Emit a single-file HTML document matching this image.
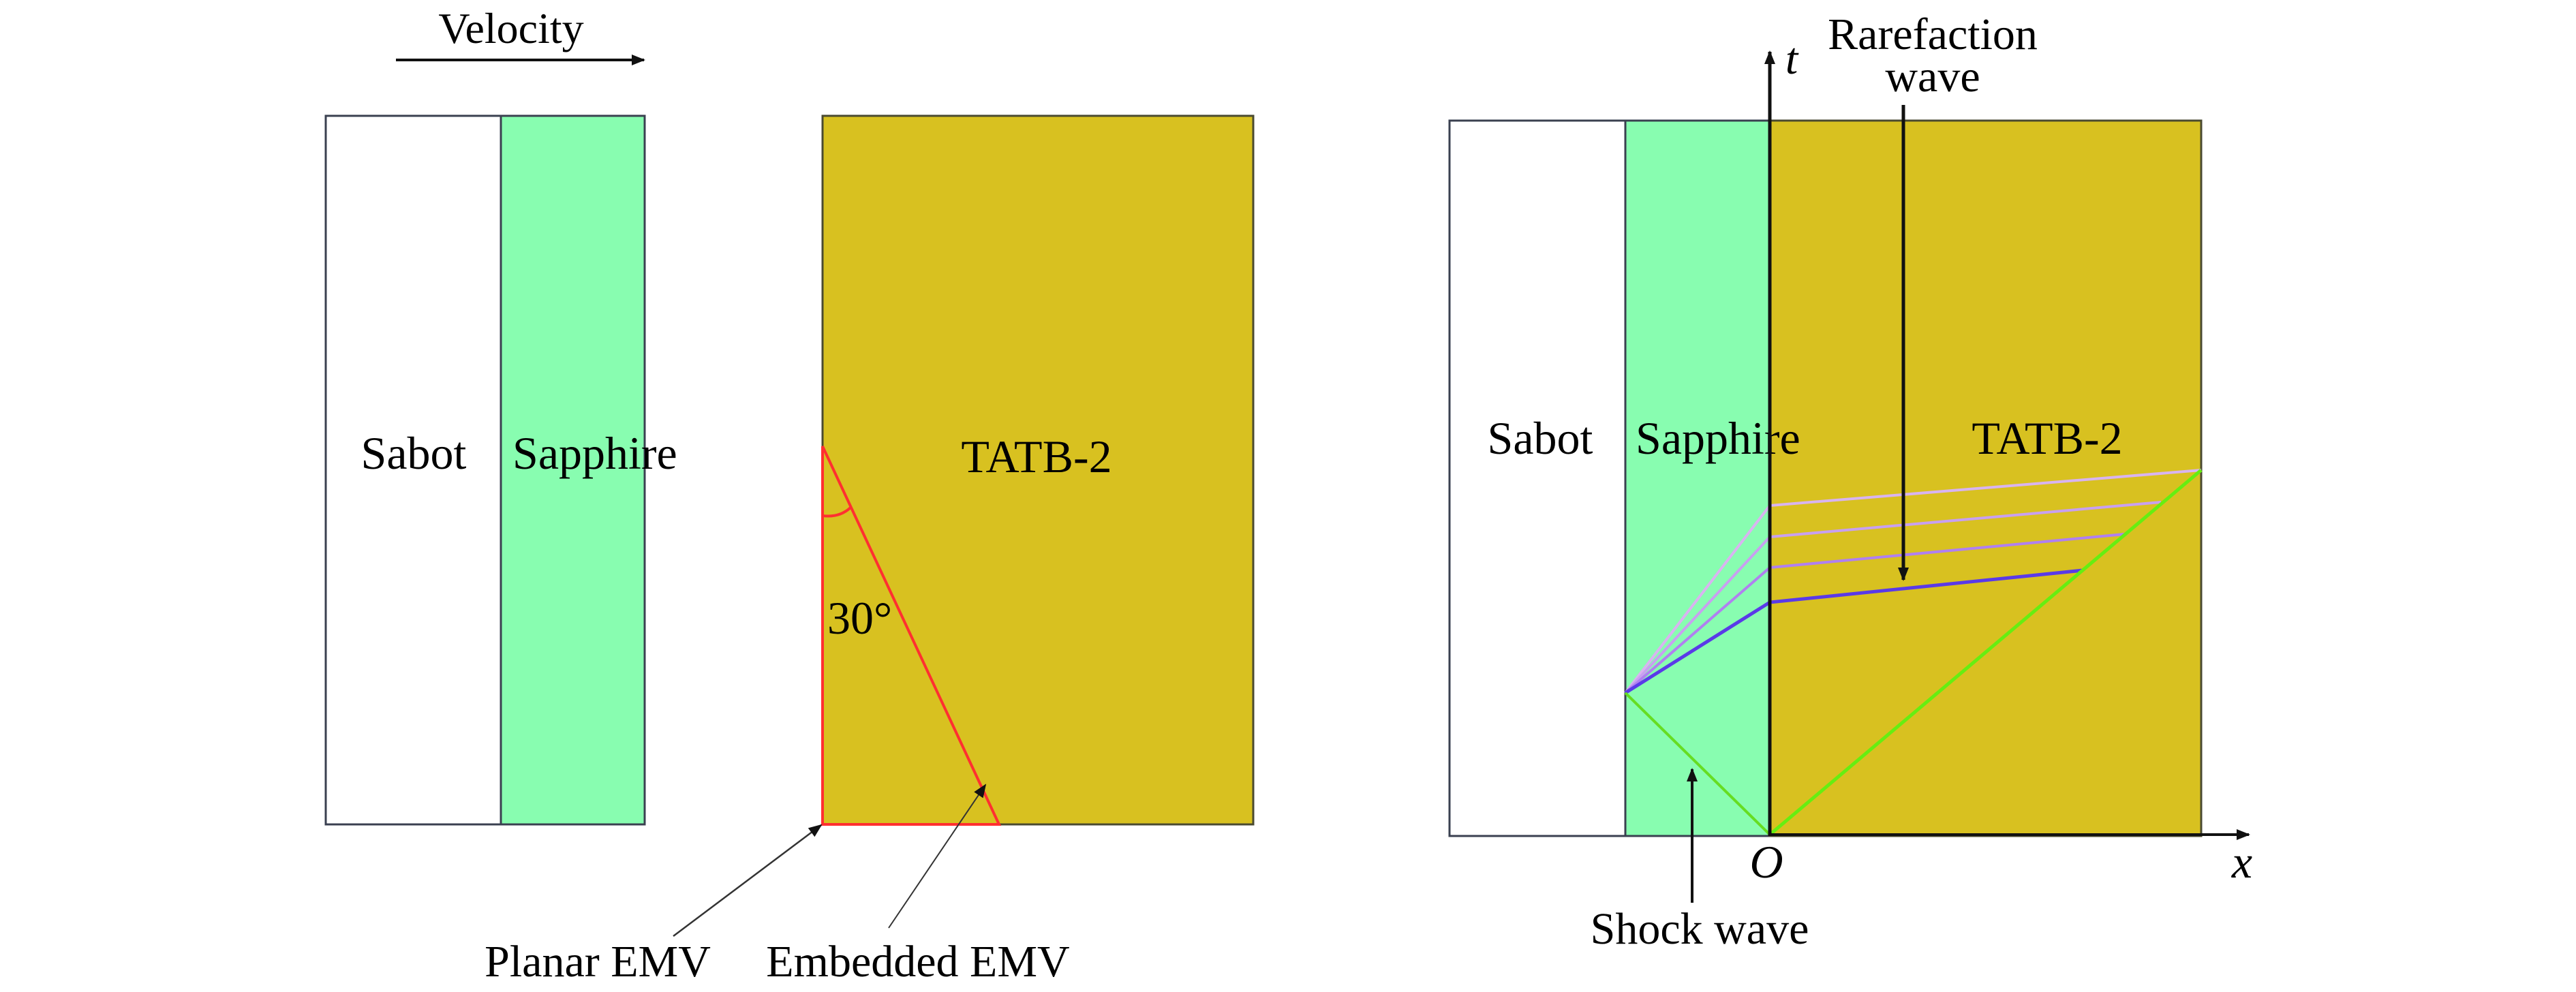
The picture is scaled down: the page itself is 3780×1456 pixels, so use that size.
<!DOCTYPE html>
<html><head><meta charset="utf-8"><style>
html,body{margin:0;padding:0;background:#fff;}
svg{display:block;}
text{font-family:"Liberation Serif",serif;fill:#000;}
</style></head><body>
<svg width="3780" height="1456" viewBox="0 0 3780 1456" xmlns="http://www.w3.org/2000/svg">
<defs>
<marker id="ah2" viewBox="0 0 10 10" refX="9" refY="5" markerWidth="24" markerHeight="20" orient="auto" markerUnits="userSpaceOnUse">
<path d="M0,1 L10,5 L0,9 z" fill="#111"/></marker>
</defs>
<!-- LEFT -->
<text x="750" y="63" font-size="64" text-anchor="middle">Velocity</text>
<line x1="581" y1="88" x2="945" y2="88" stroke="#111" stroke-width="4" marker-end="url(#ah2)"/>
<rect x="478" y="170" width="257" height="1040" fill="#fff" stroke="#3a4050" stroke-width="3"/>
<rect x="735" y="170" width="211" height="1040" fill="#88fdb0" stroke="#3a4050" stroke-width="3"/>
<rect x="1207" y="170" width="632" height="1040" fill="#d8c120" stroke="#4a4a30" stroke-width="3"/>
<polygon points="1207,655 1207,1210 1466,1210" fill="none" stroke="#ff3030" stroke-width="4"/>
<path d="M1207,757 Q1232,760 1248,745" fill="none" stroke="#ff3030" stroke-width="4"/>
<text x="607" y="688" font-size="68" text-anchor="middle">Sabot</text>
<text x="752" y="688" font-size="68">Sapphire</text>
<text x="1521" y="693" font-size="68" text-anchor="middle">TATB-2</text>
<text x="1214" y="930" font-size="68">30°</text>
<line x1="988" y1="1374" x2="1205" y2="1211" stroke="#333" stroke-width="2.5" marker-end="url(#ah2)"/>
<line x1="1304" y1="1362" x2="1446" y2="1152" stroke="#333" stroke-width="2" marker-end="url(#ah2)"/>
<text x="877" y="1433" font-size="66" text-anchor="middle">Planar EMV</text>
<text x="1347" y="1433" font-size="66" text-anchor="middle">Embedded EMV</text>
<!-- RIGHT -->
<rect x="2127" y="177" width="258" height="1050" fill="#fff" stroke="#3a4050" stroke-width="3"/>
<rect x="2385" y="177" width="212" height="1050" fill="#88fdb0" stroke="#3a4050" stroke-width="3"/>
<rect x="2597" y="177" width="633" height="1050" fill="#d8c120" stroke="#4a4a30" stroke-width="3"/>
<text x="2260" y="666" font-size="68" text-anchor="middle">Sabot</text>
<text x="2400" y="666" font-size="68">Sapphire</text>
<text x="3004" y="666" font-size="68" text-anchor="middle">TATB-2</text>
<polyline points="2385,1017 2597,742 3230,690" fill="none" stroke="#d8b4f0" stroke-width="4"/>
<polyline points="2385,1017 2597,788 3171,737" fill="none" stroke="#c8a0f0" stroke-width="4"/>
<polyline points="2385,1017 2597,833 3117,784" fill="none" stroke="#b080f0" stroke-width="4"/>
<polyline points="2385,1017 2597,884 3057,837" fill="none" stroke="#5a3ae8" stroke-width="5"/>
<line x1="2385" y1="1017" x2="2597" y2="1225" stroke="#66dd22" stroke-width="4"/>
<line x1="2597" y1="1225" x2="3230" y2="690" stroke="#66ee11" stroke-width="5"/>
<line x1="2597" y1="1227" x2="2597" y2="76" stroke="#111" stroke-width="5" marker-end="url(#ah2)"/>
<line x1="2597" y1="1225" x2="3300" y2="1225" stroke="#111" stroke-width="4" marker-end="url(#ah2)"/>
<text x="2629" y="108" font-size="66" font-style="italic" text-anchor="middle">t</text>
<text x="3290" y="1288" font-size="68" font-style="italic" text-anchor="middle">x</text>
<text x="2592" y="1288" font-size="68" font-style="italic" text-anchor="middle">O</text>
<text x="2836" y="72" font-size="66" text-anchor="middle">Rarefaction</text>
<text x="2836" y="134" font-size="66" text-anchor="middle">wave</text>
<line x1="2793" y1="154" x2="2793" y2="851" stroke="#111" stroke-width="5" marker-end="url(#ah2)"/>
<line x1="2483" y1="1325" x2="2483" y2="1129" stroke="#111" stroke-width="4" marker-end="url(#ah2)"/>
<text x="2494" y="1385" font-size="66" text-anchor="middle">Shock wave</text>
</svg>
</body></html>
